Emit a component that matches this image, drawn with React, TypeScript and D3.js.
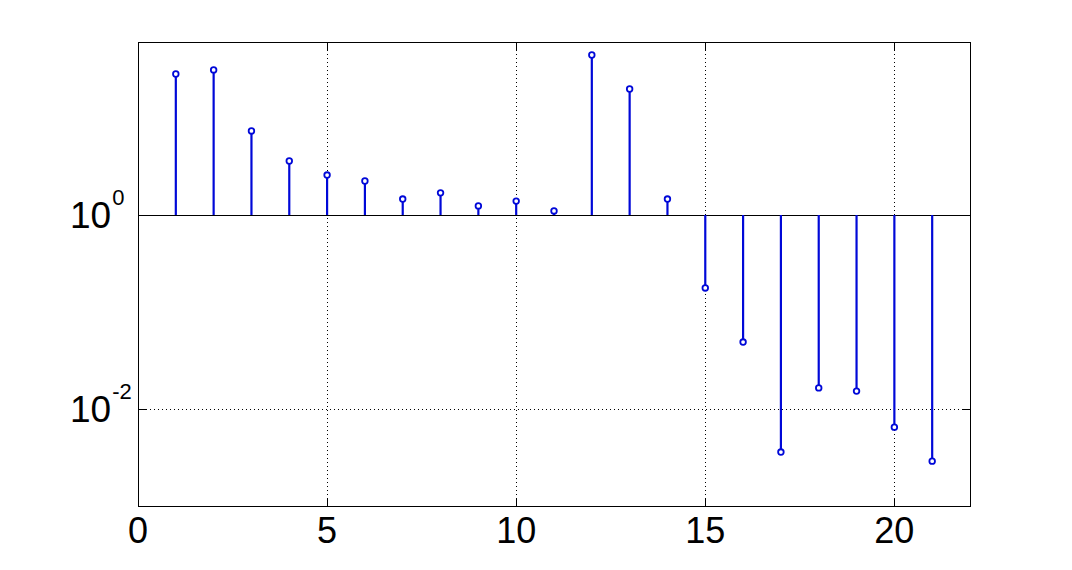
import React, { useEffect, useRef } from "react";
import * as d3 from "d3";

const indices = [1, 2, 3, 4, 5, 6, 7, 8, 9, 10, 11, 12, 13, 14, 15, 16, 17, 18, 19, 20, 21];
const values = [
  28.4, 31.3, 7.35, 3.6, 2.58, 2.24, 1.46, 1.69, 1.24, 1.39, 1.1, 44.6, 19.9, 1.46,
  0.177, 0.049, 0.0036, 0.0165, 0.0153, 0.0065, 0.0029,
];
const xTicks = [0, 5, 10, 15, 20];
const yTicks = [1, 0.01];
const yTickExp = ["0", "-2"];

const W = 1072;
const H = 570;
const margin = { top: 42, right: 102, bottom: 64, left: 138 };

export default function App() {
  const ref = useRef<SVGSVGElement>(null);

  useEffect(() => {
    const width = W - margin.left - margin.right;
    const height = H - margin.top - margin.bottom;
    const svg = d3.select(ref.current);
    svg.selectAll("*").remove();

    const g = svg.append("g").attr("transform", `translate(${margin.left},${margin.top})`);

    const x = d3.scaleLinear().domain([0, 22]).range([0, width]);
    const y = d3.scaleLog().domain([1e-3, 60.7]).range([height, 0]);

    // grid lines (dotted)
    g.selectAll(".xgrid")
      .data(xTicks.filter((t) => t > 0))
      .join("line")
      .attr("class", "xgrid")
      .attr("x1", (d) => Math.round(x(d)) + 0.5)
      .attr("x2", (d) => Math.round(x(d)) + 0.5)
      .attr("y1", 0)
      .attr("y2", height)
      .attr("stroke", "#000")
      .attr("stroke-dasharray", "1,3");

    g.selectAll(".ygrid")
      .data(yTicks)
      .join("line")
      .attr("class", "ygrid")
      .attr("x1", 0)
      .attr("x2", width)
      .attr("y1", (d) => Math.round(y(d)) + 0.5)
      .attr("y2", (d) => Math.round(y(d)) + 0.5)
      .attr("stroke", "#000")
      .attr("stroke-dasharray", "1,3");

    // baseline at 10^0
    g.append("line")
      .attr("x1", 0)
      .attr("x2", width)
      .attr("y1", Math.round(y(1)) + 0.5)
      .attr("y2", Math.round(y(1)) + 0.5)
      .attr("stroke", "#000");

    const data = indices.map((d, i) => ({ k: d, v: values[i] }));
    const blue = "#0008d8";

    // stems
    g.selectAll(".stem")
      .data(data)
      .join("line")
      .attr("class", "stem")
      .attr("x1", (d) => x(d.k))
      .attr("x2", (d) => x(d.k))
      .attr("y1", y(1))
      .attr("y2", (d) => y(d.v))
      .attr("stroke", blue)
      .attr("stroke-width", 2.2);

    g.selectAll(".marker")
      .data(data)
      .join("circle")
      .attr("class", "marker")
      .attr("cx", (d) => x(d.k))
      .attr("cy", (d) => y(d.v))
      .attr("r", 2.8)
      .attr("fill", "#fff")
      .attr("stroke", blue)
      .attr("stroke-width", 1.8);

    // frame
    g.append("rect")
      .attr("x", 0.5)
      .attr("y", 0.5)
      .attr("width", width)
      .attr("height", height)
      .attr("fill", "none")
      .attr("stroke", "#000");

    // tick marks
    const tl = 8;
    xTicks.forEach((t) => {
      const px = Math.round(x(t)) + 0.5;
      g.append("line").attr("x1", px).attr("x2", px).attr("y1", height).attr("y2", height - tl).attr("stroke", "#000");
      g.append("line").attr("x1", px).attr("x2", px).attr("y1", 0).attr("y2", tl).attr("stroke", "#000");
    });
    yTicks.forEach((t) => {
      const py = Math.round(y(t)) + 0.5;
      g.append("line").attr("x1", 0).attr("x2", tl).attr("y1", py).attr("y2", py).attr("stroke", "#000");
      g.append("line").attr("x1", width).attr("x2", width - tl).attr("y1", py).attr("y2", py).attr("stroke", "#000");
    });

    const font = "'Liberation Sans', Arial, sans-serif";

    // x tick labels
    g.selectAll(".xlab")
      .data(xTicks)
      .join("text")
      .attr("class", "xlab")
      .attr("x", (d) => x(d))
      .attr("y", height + 37)
      .attr("text-anchor", "middle")
      .attr("font-family", font)
      .attr("font-size", 36)
      .attr("fill", "#000")
      .text((d) => d);

    // y tick labels: 10^n, "10" starts at a fixed x, exponent follows
    yTicks.forEach((t, i) => {
      const py = y(t);
      const txt = g
        .append("text")
        .attr("x", -68)
        .attr("y", py + 13)
        .attr("text-anchor", "start")
        .attr("font-family", font)
        .attr("fill", "#000");
      txt.append("tspan").attr("font-size", 37).text("10");
      txt.append("tspan").attr("font-size", 22).attr("dx", 1).attr("dy", -23).text(yTickExp[i]);
    });
  }, []);

  return (
    <svg
      ref={ref}
      width={W}
      height={H}
      style={{ position: "absolute", left: 0, top: 0, background: "#fff" }}
    />
  );
}
